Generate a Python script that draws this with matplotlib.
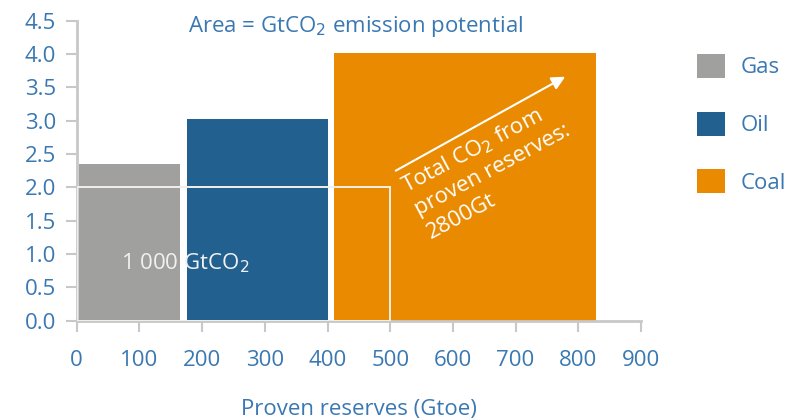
import matplotlib.pyplot as plt
from matplotlib.patches import Patch, Rectangle

plt.rcParams["font.family"] = ["Open Sans", "DejaVu Sans"]

fuels = ["Gas", "Oil", "Coal"]
reserves_start = [4, 176, 411]     # Gtoe
reserves_end = [165, 400, 828]     # Gtoe
emission_factor = [2.35, 3.03, 4.02]  # tCO2 / toe
colors = ["#a0a09f", "#22608f", "#e98a00"]

ref_reserves = 500
ref_factor = 2.0

arrow_start = (505, 2.23)
arrow_end = (783, 3.68)

text_blue = "#3a78b2"
axis_grey = "#c8c8c8"
fs = 16

fig = plt.figure(figsize=(7.87, 4.19), dpi=100)
ax = fig.add_axes([0.0975, 0.2346, 0.717, 0.716])

for x0, x1, h, c in zip(reserves_start, reserves_end, emission_factor, colors):
    ax.bar(x0, h, width=x1 - x0, align="edge", color=c, edgecolor="none", zorder=2)

# reference block: 500 Gtoe x 2 t/toe = 1000 GtCO2
ax.add_patch(Rectangle((0, 0), ref_reserves, ref_factor, fill=False,
                       edgecolor="#f4efe8", lw=1.4, zorder=3))
ax.text(173, 0.86, "1 000 GtCO$_2$", color="#f1f1f1", fontsize=fs,
        ha="center", va="center", zorder=4)

ax.annotate("", xy=arrow_end, xytext=arrow_start,
            arrowprops=dict(arrowstyle="-|>", color="white", lw=1.5,
                            mutation_scale=20), zorder=4)
ax.text(512, 2.16, "Total CO$_2$ from\nproven reserves:\n2800Gt", color="white",
        fontsize=fs, rotation=28, rotation_mode="anchor", ha="left", va="top",
        linespacing=1.3, zorder=4)

ax.text(0.495, 0.982, "Area = GtCO$_2$ emission potential", transform=ax.transAxes,
        ha="center", va="center", color=text_blue, fontsize=fs)

ax.set_xlim(0, 900)
ax.set_ylim(0, 4.5)
ax.set_xticks(range(0, 901, 100))
ax.set_yticks([i * 0.5 for i in range(10)])
ax.set_yticklabels([f"{i * 0.5:.1f}" for i in range(10)])
ax.set_xlabel("Proven reserves (Gtoe)", color=text_blue, fontsize=fs, labelpad=20)

for side in ["top", "right"]:
    ax.spines[side].set_visible(False)
for side in ["left", "bottom"]:
    ax.spines[side].set_color(axis_grey)
    ax.spines[side].set_linewidth(2)
ax.tick_params(colors=axis_grey, labelcolor=text_blue, labelsize=fs,
               width=1.5, length=8)
ax.tick_params(axis="x", pad=13)
ax.tick_params(axis="y", pad=7)

handles = [Patch(facecolor=c, edgecolor="none") for c in colors]
leg = fig.legend(handles, fuels, loc="upper left", bbox_to_anchor=(0.8856, 0.871),
                 frameon=False, fontsize=fs, handlelength=1.27, handleheight=1.27,
                 labelspacing=1.5, handletextpad=0.7, borderpad=0, borderaxespad=0)
for t in leg.get_texts():
    t.set_color(text_blue)

fig.savefig("out.png", dpi=100)
